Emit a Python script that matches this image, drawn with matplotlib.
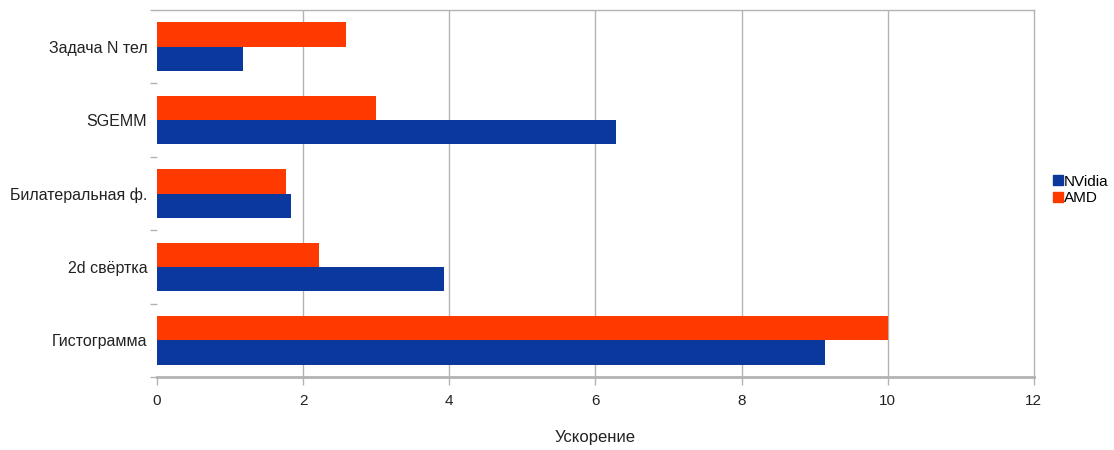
import matplotlib
matplotlib.use("Agg")
import matplotlib.pyplot as plt
import numpy as np
from matplotlib.patches import Patch

plt.rcParams['font.family'] = ['Liberation Sans', 'DejaVu Sans']

categories = ["Гистограмма", "2d свёртка", "Билатеральная ф.", "SGEMM", "Задача N тел"]
nvidia = [9.14, 3.93, 1.83, 6.28, 1.17]
amd = [10.0, 2.21, 1.76, 2.99, 2.58]
xticks = [0, 2, 4, 6, 8, 10, 12]

blue = '#0a389c'
red = '#ff3a00'
grid_c = '#b3b3b3'
txt_c = '#222222'

fig = plt.figure(figsize=(11.14, 4.5), dpi=100)
ax = fig.add_axes([0.141, 0.162, 0.787, 0.816])

y = np.arange(len(categories))
h = 0.33
ax.barh(y - h/2, nvidia, height=h, color=blue, zorder=3)
ax.barh(y + h/2, amd, height=h, color=red, zorder=3)

ax.set_xlim(0, 12)
ax.set_ylim(-0.5, len(categories) - 0.5)
ax.set_xticks(xticks)
ax.set_xticklabels([str(v) for v in xticks], fontsize=11, color=txt_c)
ax.set_yticks(y)
ax.set_yticklabels(categories, fontsize=11.5, color=txt_c)
ax.set_yticks(np.arange(len(categories) + 1) - 0.5, minor=True)
ax.tick_params(axis='y', which='major', length=0, pad=7)
ax.tick_params(axis='y', which='minor', length=5, color=grid_c, width=1)
ax.tick_params(axis='x', which='major', length=6, color=grid_c, width=1, pad=6)

for xv in xticks[1:-1]:
    ax.axvline(xv, color=grid_c, linewidth=1, zorder=0)
ax.spines['left'].set_visible(False)
ax.spines['top'].set_color(grid_c)
ax.spines['right'].set_color(grid_c)
ax.spines['bottom'].set_color(grid_c)
ax.spines['bottom'].set_linewidth(2)
ax.spines['top'].set_linewidth(1)
ax.spines['right'].set_linewidth(1)

ax.set_xlabel("Ускорение", fontsize=12, color=txt_c, labelpad=16)

handles = [Patch(color=blue, label='NVidia'), Patch(color=red, label='AMD')]
fig.legend(handles=handles, loc='center left', bbox_to_anchor=(0.938, 0.578),
           frameon=False, fontsize=11, handlelength=0.65, handleheight=0.65,
           handletextpad=0.1, labelspacing=0.15, borderpad=0)

fig.savefig("out.png", dpi=100)
